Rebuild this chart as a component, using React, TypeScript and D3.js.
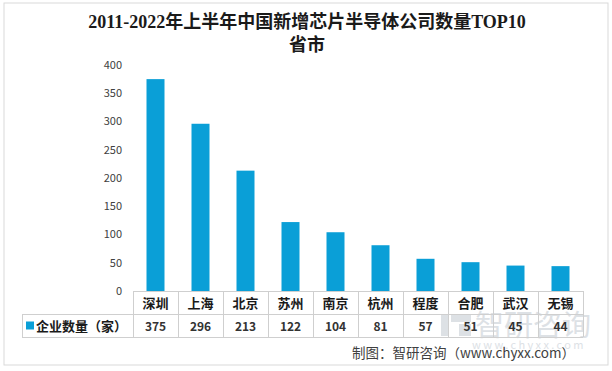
import React from "react";
import { scaleBand, scaleLinear } from "d3";

const cities = ["深圳", "上海", "北京", "苏州", "南京", "杭州", "程度", "合肥", "武汉", "无锡"];
const counts = [375, 296, 213, 122, 104, 81, 57, 51, 45, 44];
const yTicks = [0, 50, 100, 150, 200, 250, 300, 350, 400];
const seriesName = "企业数量（家）";
const titleLines = ["2011-2022年上半年中国新增芯片半导体公司数量TOP10", "省市"];
const sourceText = "制图：智研咨询（www.chyxx.com）";

export default function App() {
  const width = 612;
  const height = 371;
  const plotLeft = 133;
  const plotRight = 583;
  const baseY = 291;
  const rowH = 23;
  const legendLeft = 22;

  const xScale = scaleBand<string>().domain(cities).range([plotLeft, plotRight]).paddingInner(0).paddingOuter(0);
  const yScale = scaleLinear().domain([0, 400]).range([baseY, 65]);
  const barW = 18;
  const blue = "#0A9FD7";
  const grid = "#cfcfcf";
  const sans = "'Microsoft YaHei', 'Noto Sans CJK SC', sans-serif";

  return (
    <svg width={width} height={height} style={{ position: "fixed", left: 0, top: 0, background: "#fff" }}>
      <rect x={4} y={3} width={604} height={362} fill="#fff" stroke="#d9d9d9" />

      {/* title */}
      {titleLines.map((t, i) => (
        <text key={i} x={307} y={28 + i * 23} textAnchor="middle" fontSize={18} fontWeight="bold"
          fontFamily="'Liberation Serif', 'Noto Sans CJK SC', serif" fill="#1a1a1a">{t}</text>
      ))}

      {/* y axis labels */}
      {yTicks.map((v) => (
        <text key={v} x={122} y={yScale(v)} dy="0.35em" textAnchor="end" fontSize={11}
          fontFamily={sans} fill="#404040">{v}</text>
      ))}

      {/* watermark */}
      <g fill="#d5dadf" opacity={0.8}>
        <rect x={441} y={314} width={8} height={22} />
        <rect x={451} y={314} width={20} height={8} />
        <rect x={459} y={324} width={12} height={12} />
        <text x={475} y={336} fontSize={29} fontFamily={sans}>智研咨询</text>
        <text x={472} y={349} fontSize={11} letterSpacing={2.4} fontFamily={sans}>www.chyxx.com</text>
      </g>

      {/* bars */}
      {cities.map((c, i) => (
        <rect key={c} x={xScale(c)! + xScale.bandwidth() / 2 - barW / 2} y={yScale(counts[i])}
          width={barW} height={baseY - yScale(counts[i])} fill={blue} />
      ))}

      {/* data table */}
      <g stroke={grid} strokeWidth={1} fill="none" shapeRendering="crispEdges">
        <line x1={plotLeft} x2={plotRight} y1={baseY + 0.5} y2={baseY + 0.5} />
        <line x1={legendLeft} x2={plotRight} y1={baseY + rowH + 0.5} y2={baseY + rowH + 0.5} />
        <line x1={legendLeft} x2={plotRight} y1={baseY + 2 * rowH + 0.5} y2={baseY + 2 * rowH + 0.5} />
        <line x1={legendLeft + 0.5} x2={legendLeft + 0.5} y1={baseY + rowH} y2={baseY + 2 * rowH} />
        {cities.map((c) => (
          <line key={c} x1={xScale(c)! + 0.5} x2={xScale(c)! + 0.5} y1={baseY} y2={baseY + 2 * rowH} />
        ))}
        <line x1={plotRight + 0.5} x2={plotRight + 0.5} y1={baseY} y2={baseY + 2 * rowH} />
      </g>

      {cities.map((c, i) => (
        <g key={c}>
          <text x={xScale(c)! + xScale.bandwidth() / 2} y={baseY + rowH / 2 + 1} dy="0.35em" textAnchor="middle"
            fontSize={13} fontWeight="bold" fontFamily={sans} fill="#1a1a1a">{c}</text>
          <text x={xScale(c)! + xScale.bandwidth() / 2} y={baseY + rowH * 1.5 + 1} dy="0.35em" textAnchor="middle"
            fontSize={12} fontWeight="bold" fontFamily={sans} fill="#333">{counts[i]}</text>
        </g>
      ))}

      {/* legend cell */}
      <rect x={26} y={baseY + rowH * 1.5 - 4} width={8} height={8} fill={blue} />
      <text x={36} y={baseY + rowH * 1.5 + 1} dy="0.35em" fontSize={13} fontWeight="bold"
        fontFamily={sans} fill="#1a1a1a">{seriesName}</text>

      {/* source */}
      <text x={575} y={353} dy="0.35em" textAnchor="end" fontSize={13.5} fontFamily={sans} fill="#404040">{sourceText}</text>
    </svg>
  );
}
